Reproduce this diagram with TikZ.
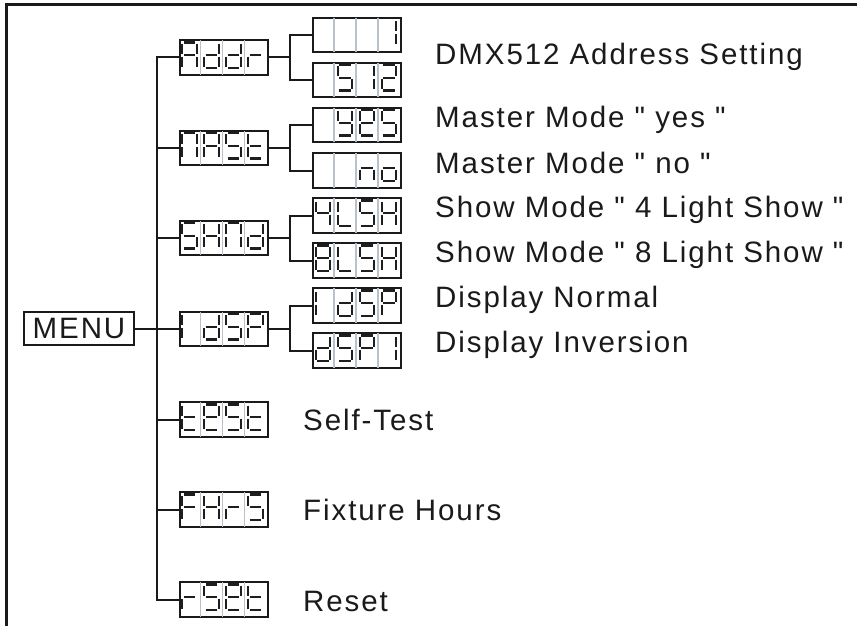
\documentclass[tikz,border=0pt]{standalone}
\usepackage{fontspec}
\setmainfont{Liberation Sans}
\newfontfamily\labfont{Liberation Sans}[LetterSpace=6.5]
\usetikzlibrary{calc}
\definecolor{ink}{HTML}{1A1A1A}
\definecolor{segc}{HTML}{1E1E1E}
\definecolor{divc}{HTML}{B9C1CA}
% seven-segment paths, digit 14.5 wide, 25.5 high (y grows downward)
\newcommand\segpa{(1.4,0) -- (13.1,0)}
\newcommand\segpb{(14.5,1.4) -- (14.5,11.4)}
\newcommand\segpc{(14.5,14.1) -- (14.5,24.1)}
\newcommand\segpd{(1.4,25.5) -- (13.1,25.5)}
\newcommand\segpe{(0,14.1) -- (0,24.1)}
\newcommand\segpf{(0,1.4) -- (0,11.4)}
\newcommand\segpg{(1.4,12.75) -- (13.1,12.75)}
\newcommand\segpx{(0,0)}
\tikzset{
  seg/.style={draw=segc, line width=2.3pt, line cap=butt},
  pics/sev/.style={code={\foreach \s in {#1}{\draw[seg] \csname segp\s\endcsname;}}},
  dbox/.style={draw=ink, line width=2pt, minimum width=88pt, minimum height=34.5pt, inner sep=0pt},
  divl/.style={draw=divc, line width=1.4pt},
  conn/.style={draw=ink, line width=2pt},
  lab/.style={anchor=base west, inner sep=0pt, text=ink, font=\labfont\fontsize{29.5}{31}\selectfont},
  frame/.style={draw=ink, line width=3pt}
}
\newcommand\disp[7]{%
  \node[dbox] (#1) at (#2,#3) {};
  \foreach \k in {1,2,3}{\draw[divl] ($(#1.north west)+(\k*22,1.1)$) -- ($(#1.south west)+(\k*22,-1.1)$);}
  \pic at ($(#1.north west)+(3.8,3.3)$) {sev={#4}};
  \pic at ($(#1.north west)+(25.8,3.3)$) {sev={#5}};
  \pic at ($(#1.north west)+(47.8,3.3)$) {sev={#6}};
  \pic at ($(#1.north west)+(69.8,3.3)$) {sev={#7}};
}
\begin{document}
\begin{tikzpicture}[x=1pt,y=-1pt]
\useasboundingbox (0,0) rectangle (857,626);
\draw[frame] (6.5,627) -- (6.5,4.5) -- (858,4.5);

% MENU
\node[draw=ink, line width=2pt, minimum width=110pt, minimum height=33.5pt, inner sep=0pt,
      font=\labfont\fontsize{29.5}{31}\selectfont, text=ink] (menu) at (79,328.5) {MENU};

% main level
\disp{addr}{223.5}{57.5}{a,b,c,e,f,g}{b,c,d,e,g}{b,c,d,e,g}{e,g}
\disp{nast}{223.5}{148}{a,b,c,e,f}{a,b,c,e,f,g}{a,c,d,f,g}{d,e,f,g}
\disp{shnd}{223.5}{238}{a,c,d,f,g}{b,c,e,f,g}{a,b,c,e,f}{b,c,d,e,g}
\disp{idsp}{223.5}{329}{e,f}{b,c,d,e,g}{a,c,d,f,g}{a,b,e,f,g}
\disp{test}{223.5}{419.5}{d,e,f,g}{a,b,d,e,f,g}{a,c,d,f,g}{d,e,f,g}
\disp{fhrs}{223.5}{509.5}{a,e,f,g}{b,c,e,f,g}{e,g}{a,c,d,f,g}
\disp{rset}{223.5}{599.5}{e,g}{a,c,d,f,g}{a,b,d,e,f,g}{d,e,f,g}

% sub level
\disp{a1}{357}{35}{x}{x}{x}{b,c}
\disp{a2}{357}{80}{x}{a,c,d,f,g}{b,c}{a,b,d,e,g}
\disp{m1}{357}{125}{x}{b,c,d,f,g}{a,b,d,e,f,g}{a,c,d,f,g}
\disp{m2}{357}{170.5}{x}{x}{c,e,g}{c,d,e,g}
\disp{s1}{357}{215.5}{b,c,f,g}{d,e,f}{a,c,d,f,g}{b,c,e,f,g}
\disp{s2}{357}{260.5}{a,b,c,d,e,f,g}{d,e,f}{a,c,d,f,g}{b,c,e,f,g}
\disp{d1}{357}{305.5}{e,f}{b,c,d,e,g}{a,c,d,f,g}{a,b,e,f,g}
\disp{d2}{357}{350.5}{b,c,d,e,g}{a,c,d,f,g}{a,b,e,f,g}{b,c}

% trunk
\coordinate (T) at (157,0);
\coordinate (B) at (290,0);
\draw[conn] (menu.east) -- (menu.east -| T);
\draw[conn] (addr.west) -- (addr.west -| T) -- (rset.west -| T) -- (rset.west);
\foreach \n in {nast,shnd,idsp,test,fhrs}{\draw[conn] (\n.west) -- (\n.west -| T);}

% sub branches
\foreach \m/\u/\v in {addr/a1/a2, nast/m1/m2, shnd/s1/s2, idsp/d1/d2}{
  \draw[conn] (\m.east) -- (\m.east -| B);
  \draw[conn] (\u.west) -- (\u.west -| B) -- (\v.west -| B) -- (\v.west);
}

% labels
\node[lab] (l1) at (435,65) {DMX512 Address Setting};
\node[lab] (l2) at (435,128) {Master Mode " yes "};
\node[lab] (l3) at (435,173) {Master Mode " no "};
\node[lab] (l4) at (435,217) {Show Mode " 4 Light Show "};
\node[lab] (l5) at (435,262) {Show Mode " 8 Light Show "};
\node[lab] (l6) at (435,307) {Display Normal};
\node[lab] (l7) at (435,352) {Display Inversion};
\node[lab] (l8) at (303,430) {Self-Test};
\node[lab] (l9) at (303,520) {Fixture Hours};
\node[lab] (l10) at (303,611) {Reset};
\end{tikzpicture}
\end{document}
